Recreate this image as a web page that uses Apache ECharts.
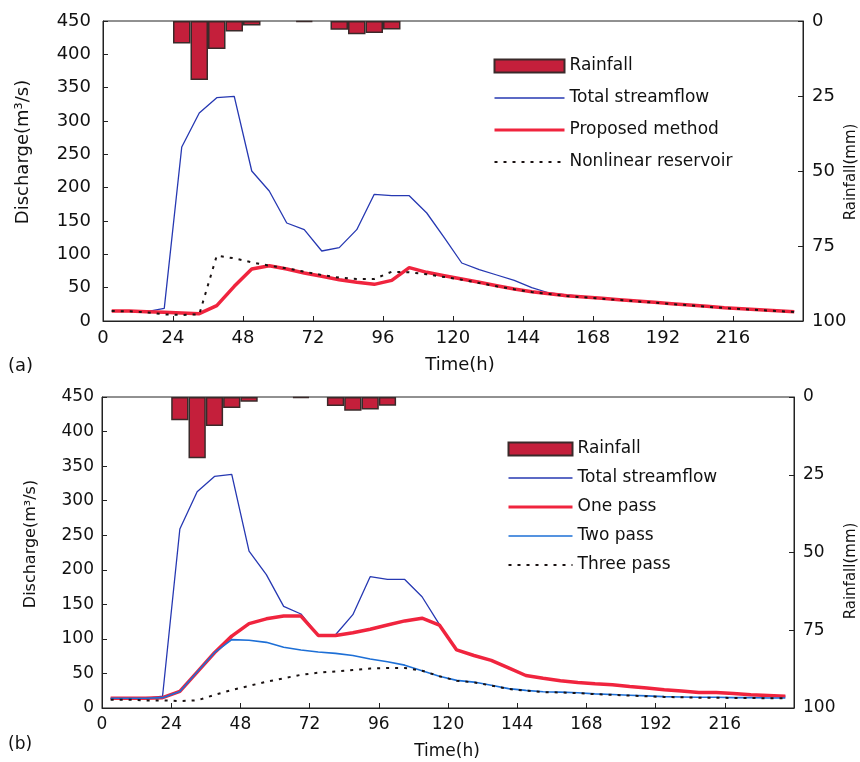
<!DOCTYPE html>
<html>
<head>
<meta charset="utf-8">
<title>Discharge and rainfall</title>
<script src="https://cdn.jsdelivr.net/npm/echarts@6/dist/echarts.min.js"></script>
<style>
  html, body { margin: 0; padding: 0; background: #ffffff; }
  .panel { position: absolute; left: 0; width: 860px; height: 381px; }
  #panelA { top: 0; }
  #panelB { top: 381px; }
</style>
</head>
<body>
<div id="panelA" class="panel"></div>
<div id="panelB" class="panel"></div>
<script>
// Time stamps of the hydrograph ordinates (h)
const hours = [3, 9, 15, 21, 27, 33, 39, 45, 51, 57, 63, 69, 75, 81, 87, 93, 99, 105, 111, 117,
               123, 129, 135, 141, 147, 153, 159, 165, 171, 177, 183, 189, 195, 201, 207, 213, 219, 225, 231, 237];

// Hyetograph: 6-hour rainfall blocks centred on these hours (mm)
const rainHours = [27, 33, 39, 45, 51, 69, 81, 87, 93, 99];
const rainMm    = [7.5, 19.7, 9.3, 3.5, 1.5, 0.4, 2.9, 4.4, 4.0, 2.8];

// Panel (a): discharge (m3/s)
const totalA     = [15, 15, 14, 19, 261, 312, 335, 337, 225, 195, 147, 137, 105, 110, 137, 190, 188, 188, 162, 125,
                    87, 77, 69, 61, 50, 42, 39, 36.5, 34.5, 32.5, 30.5, 28.5, 26.5, 24.5, 22.5, 20.5, 19, 17.5, 16, 14.5];
const proposedA  = [15, 15, 14, 13, 12, 11, 23, 52, 78, 83, 78, 72, 67, 62, 58, 55, 61, 80, 73, 68,
                    63, 58, 53, 48, 44, 41, 38, 36, 34, 32, 30, 28, 26, 24, 22, 20, 18.5, 17, 15.5, 14];
const reservoirA = [15, 14.5, 13, 10, 9, 10, 98, 94, 88, 83, 79, 74, 69, 65, 63, 63, 74, 73, 70, 66,
                    62, 57, 52, 47.5, 43.5, 40.5, 37.5, 35.5, 33.5, 31.5, 29.5, 27.5, 25.5, 23.5, 21.5, 19.5, 18, 16.5, 15, 13.5];

// Panel (b): discharge (m3/s)
const totalB     = [14, 14, 14, 17, 259, 313, 335, 338, 227, 193, 147, 136, 105, 106, 135, 190, 186, 186, 161, 121,
                    84, 76, 69, 58, 47, 43, 39.5, 37, 35, 33.5, 31, 29, 26.5, 24.5, 22.5, 22.5, 21, 19, 18, 17];
const onePassB   = [14, 14, 14, 15, 24, 52, 80, 104, 122, 129, 133, 133, 105, 105, 109, 114, 120, 126, 130, 120,
                    84, 76, 69, 58, 47, 43, 39.5, 37, 35, 33.5, 31, 29, 26.5, 24.5, 22.5, 22.5, 21, 19, 18, 17];
const twoPassB   = [14, 14, 14, 15, 24, 52, 80, 99, 98, 95, 88, 84, 81, 79, 76, 71, 67, 62, 54, 46,
                    40, 37.5, 33, 28, 25.5, 23.5, 23, 22, 20.5, 19.5, 18.5, 17.5, 16.5, 16, 15.5, 15.5, 15, 15, 14.5, 14.5];
const threePassB = [12, 12, 11, 11, 10, 11, 19, 26, 32, 38, 43, 48, 51, 53, 55, 57, 58, 58, 54, 46,
                    39.5, 37, 32.5, 27.5, 25, 23, 22.5, 21.5, 20, 19, 18, 17, 16, 15.5, 15, 15, 14.5, 14.5, 14, 14];

// Axis ranges and tick steps
const timeRange = [0, 240],      timeStep = 24;
const dischargeRange = [0, 450], dischargeStep = 50;
const rainRange = [0, 100],      rainStep = 25;

const FONT = 'DejaVu Sans';
const INK = '#111111';

const pairs = (xs, ys) => xs.map((x, i) => [x, ys[i]]);

function rainSeries() {
  return {
    name: 'Rainfall', type: 'bar', xAxisIndex: 0, yAxisIndex: 1,
    data: pairs(rainHours, rainMm), barWidth: '100%',
    itemStyle: { color: '#c41f3b', borderColor: '#3a2a2a', borderWidth: 1.5 },
    z: 1
  };
}

function lineSeries(name, values, color, width, type, z) {
  return {
    name, type: 'line', xAxisIndex: 0, yAxisIndex: 0,
    data: pairs(hours, values), showSymbol: false, symbol: 'circle',
    lineStyle: { color, width, type: type || 'solid' },
    itemStyle: { color },
    z: z
  };
}

function titleText(text, x, y, size, rotation, align) {
  return {
    type: 'text', x, y, rotation: rotation || 0,
    style: {
      text, fill: INK, fontFamily: FONT, fontSize: size,
      font: size + 'px "' + FONT + '"',
      align: align || 'center', verticalAlign: 'middle',
      textAlign: align || 'center', textVerticalAlign: 'middle'
    }
  };
}

function buildPanel(dom, p) {
  const chart = echarts.init(dom, null, { renderer: 'canvas' });
  const axisLine = { show: true, lineStyle: { color: '#222', width: 1 } };
  const axisTick = { show: true, inside: true, length: 5, lineStyle: { color: '#222' } };
  chart.setOption({
    animation: false,
    textStyle: { fontFamily: FONT },
    grid: {
      left: p.grid[0], top: p.grid[1], width: p.grid[2], height: p.grid[3],
      show: true, borderColor: '#222', borderWidth: 1, backgroundColor: 'transparent'
    },
    xAxis: {
      type: 'value', min: timeRange[0], max: timeRange[1], interval: timeStep,
      axisLine, axisTick, splitLine: { show: false },
      axisLabel: { showMaxLabel: false, color: INK, fontSize: p.tickFont, fontFamily: FONT, margin: p.xMargin }
    },
    yAxis: [
      {
        type: 'value', position: 'left', min: dischargeRange[0], max: dischargeRange[1], interval: dischargeStep,
        axisLine, axisTick, splitLine: { show: false },
        axisLabel: { color: INK, fontSize: p.tickFont, fontFamily: FONT, margin: p.leftMargin }
      },
      {
        type: 'value', position: 'right', inverse: true, min: rainRange[0], max: rainRange[1], interval: rainStep,
        axisLine, axisTick, splitLine: { show: false },
        axisLabel: { color: INK, fontSize: p.tickFont, fontFamily: FONT, margin: p.rightMargin }
      }
    ],
    legend: {
      orient: 'vertical', left: p.legend.left, top: p.legend.top,
      itemWidth: p.legend.width, itemHeight: 13, itemGap: p.legend.gap, itemTextGap: 5,
      selectedMode: false,
      textStyle: { color: INK, fontSize: 17, fontFamily: FONT, lineHeight: 18 },
      data: p.series.map(s => s.type === 'bar'
        ? { name: s.name, icon: 'rect' }
        : { name: s.name, itemStyle: { opacity: 0 }, lineStyle: { width: Math.min(s.lineStyle.width, 3) } })
    },
    graphic: p.titles,
    series: p.series
  });
  return chart;
}

buildPanel(document.getElementById('panelA'), {
  grid: [103, 21, 700, 300],
  tickFont: 18, xMargin: 8, leftMargin: 12, rightMargin: 9,
  legend: { left: 488, top: 52, width: 70, gap: 14 },
  series: [
    rainSeries(),
    lineSeries('Total streamflow', totalA, '#2638b2', 1.3, 'solid', 2),
    lineSeries('Proposed method', proposedA, '#f0243e', 3.5, 'solid', 3),
    lineSeries('Nonlinear reservoir', reservoirA, '#1a1212', 2, [3, 6], 4)
  ],
  titles: [
    titleText('Discharge(m³/s)', 23, 152, 18, Math.PI / 2),
    titleText('Rainfall(mm)', 851, 172, 15, Math.PI / 2),
    titleText('Time(h)', 460, 365, 18),
    titleText('(a)', 8, 366, 18, 0, 'left')
  ]
});

buildPanel(document.getElementById('panelB'), {
  grid: [102, 16, 692, 311],
  tickFont: 17, xMargin: 8, leftMargin: 8, rightMargin: 9,
  legend: { left: 502, top: 54, width: 64, gap: 11 },
  series: [
    rainSeries(),
    lineSeries('Total streamflow', totalB, '#2638b2', 1.3, 'solid', 2),
    lineSeries('One pass', onePassB, '#f0243e', 3.5, 'solid', 3),
    lineSeries('Two pass', twoPassB, '#1d6fd6', 1.6, 'solid', 4),
    lineSeries('Three pass', threePassB, '#1a1212', 2, [3, 6], 5)
  ],
  titles: [
    titleText('Discharge(m³/s)', 31, 163, 16, Math.PI / 2),
    titleText('Rainfall(mm)', 851, 190, 15, Math.PI / 2),
    titleText('Time(h)', 447, 371, 17),
    titleText('(b)', 8, 364, 17, 0, 'left')
  ]
});
</script>
</body>
</html>
